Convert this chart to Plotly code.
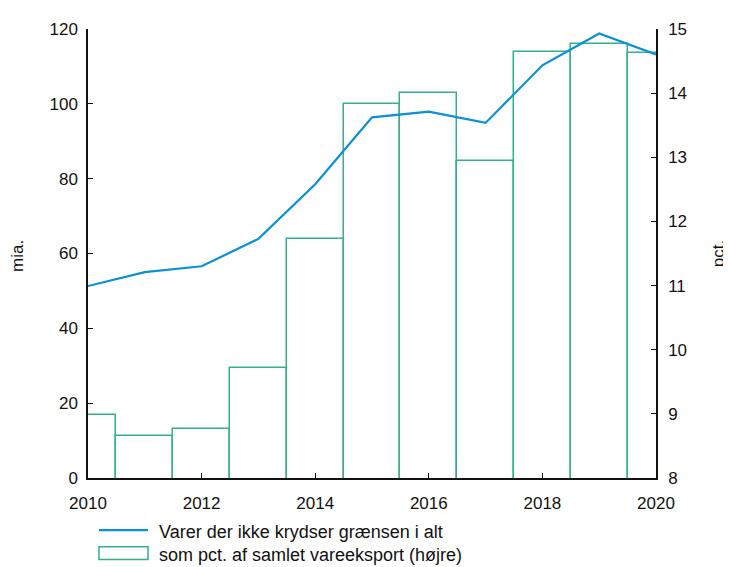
import plotly.graph_objects as go

years = [2010, 2011, 2012, 2013, 2014, 2015, 2016, 2017, 2018, 2019, 2020]
mia = [51.3, 55.0, 56.6, 63.9, 78.5, 96.4, 97.9, 94.9, 110.3, 118.8, 113.2]
pct = [8.98, 8.65, 8.77, 9.72, 11.72, 13.83, 14.01, 12.94, 14.64, 14.76, 14.62]

line_name = "Varer der ikke krydser grænsen i alt"
bar_name = "som pct. af samlet vareeksport (højre)"
x_ticks = [2010, 2012, 2014, 2016, 2018, 2020]
left_ticks = [0, 20, 40, 60, 80, 100, 120]
right_ticks = [8, 9, 10, 11, 12, 13, 14, 15]

BLUE = "#0a90d4"
GREEN = "#34b08c"
FONT = "Liberation Sans, Arial, sans-serif"

OFF = 8  # page body margin
W, H = 731 - OFF, 567 - OFF
L, T = 88 - OFF, 21 - OFF
pw, ph = 568, 457
R = W - L - pw
B = H - T - ph


def px(xp):
    # page pixel -> paper x
    return (xp - OFF - L) / pw


def py(yp):
    # page pixel -> paper y
    return (T + ph - (yp - OFF)) / ph


fig = go.Figure()
fig.add_trace(go.Bar(
    x=years, y=pct, width=1, name=bar_name, yaxis="y",
    marker=dict(color="rgba(255,255,255,0)", line=dict(color=GREEN, width=1.5)),
    showlegend=False,
))
fig.add_trace(go.Scatter(
    x=years, y=mia, mode="lines", name=line_name, yaxis="y2",
    line=dict(color=BLUE, width=2.2), showlegend=False,
))

axis_common = dict(
    showgrid=False, zeroline=False, showline=True, linecolor="#111",
    linewidth=1.5, ticks="inside", ticklen=5, tickwidth=1.2, tickcolor="#111",
    tickfont=dict(family=FONT, size=17, color="#111"),
)

ann_font = dict(family=FONT, size=17, color="#111")
leg_font = dict(family=FONT, size=18, color="#111")

fig.update_layout(
    width=W, height=H,
    margin=dict(l=L, r=R, t=T, b=B),
    paper_bgcolor="white", plot_bgcolor="white",
    showlegend=False,
    bargap=0,
    xaxis=dict(range=[2010, 2020], tickvals=x_ticks, ticklabelstandoff=9, **axis_common),
    yaxis=dict(range=[8, 15], tickvals=right_ticks, side="right",
               ticklabelstandoff=7, automargin=False,
               title=dict(text="pct.", font=ann_font, standoff=26),
               **axis_common),
    yaxis2=dict(range=[0, 120], tickvals=left_ticks, side="left",
                overlaying="y", ticklabelstandoff=5, **axis_common),
)

fig.add_annotation(text="mia.", xref="paper", yref="paper", x=px(18), y=py(252),
                   xanchor="center", yanchor="middle",
                   textangle=-90, showarrow=False, font=ann_font)

# legend (drawn manually)
fig.add_shape(type="line", xref="paper", yref="paper", x0=px(99), x1=px(148),
              y0=py(531), y1=py(531), line=dict(color=BLUE, width=2.2))
fig.add_shape(type="rect", xref="paper", yref="paper", x0=px(99), x1=px(148),
              y0=py(548), y1=py(561), line=dict(color=GREEN, width=1.5),
              fillcolor="rgba(0,0,0,0)")
fig.add_annotation(text=line_name, xref="paper", yref="paper", x=px(157), y=py(533),
                   xanchor="left", yanchor="middle", showarrow=False, font=leg_font)
fig.add_annotation(text=bar_name, xref="paper", yref="paper", x=px(157), y=py(556),
                   xanchor="left", yanchor="middle", showarrow=False, font=leg_font)

fig.write_html("out.html")
